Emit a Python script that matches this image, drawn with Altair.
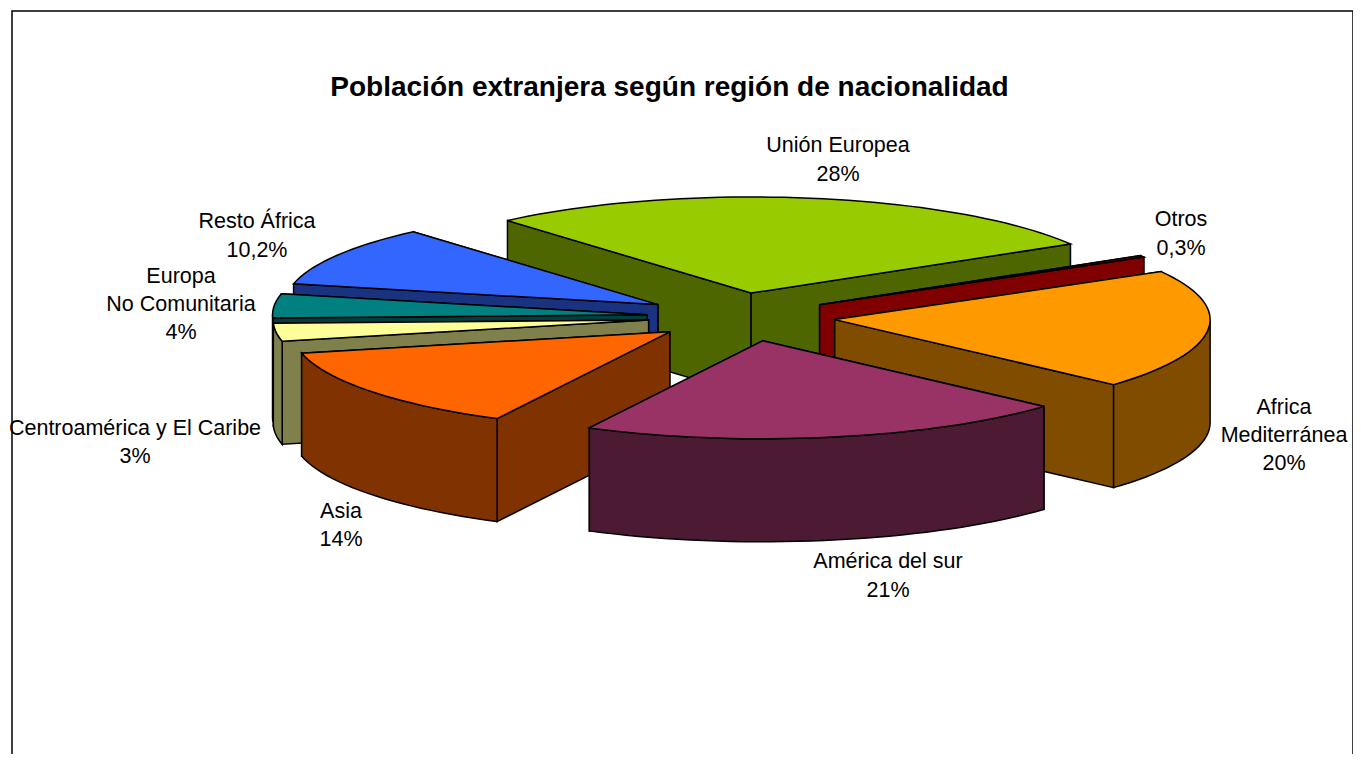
import math
import altair as alt
import pandas as pd

names = ["Unión Europea", "Otros", "Africa Mediterránea", "América del sur", "Asia",
         "Centroamérica y El Caribe", "Europa No Comunitaria", "Resto África"]
values = [28, 0.3, 20, 21, 14, 3, 4, 10.2]
top_colors = ["#99CC00", "#800000", "#FF9900", "#993366", "#FF6600", "#FFFF99", "#008080", "#3366FF"]
wall_colors = ["#4D6600", "#800000", "#804D00", "#4D1A33", "#803300", "#80804D", "#004040", "#1A3380"]
paint_order = [0, 1, 2, 7, 6, 5, 4, 3]

label_lines = ["Unión Europea", "28%", "Otros", "0,3%", "Africa", "Mediterránea", "20%",
               "América del sur", "21%", "Asia", "14%", "Centroamérica y El Caribe", "3%",
               "Europa", "No Comunitaria", "4%", "Resto África", "10,2%"]
label_x = [837, 837, 1180, 1180, 1283, 1283, 1283, 887, 887, 340, 340, 134, 134, 180, 180, 180, 256, 256]
label_y = [145, 174, 219, 248, 407, 435, 463, 561, 590, 511, 539, 428, 456, 276, 304, 332, 221, 250]
title_text = "Población extranjera según región de nacionalidad"

W, H = 1345, 746
OX, OY = 11, 10
CX, CY, RX, RY, DEPTH, EXPLODE = 745, 316, 375, 97, 103, 0.25
START = -41
SHEAR, SHEAR_Y, PERSPECTIVE = 0.2, 341, 0.0004

total = sum(values)
polys = []
ang = START
spans = []
for v in values:
    spans.append((ang, ang + v / total * 360))
    ang += v / total * 360

for i in paint_order:
    a0, a1 = spans[i]
    mid = math.radians((a0 + a1) / 2)
    ax = CX + EXPLODE * RX * math.sin(mid)
    ay = CY - EXPLODE * RY * math.cos(mid)
    ax += SHEAR * (ay - SHEAR_Y)
    sc = 1 + PERSPECTIVE * (ay - CY)

    def pt(deg):
        r = math.radians(deg)
        return (ax + sc * RX * math.sin(r), ay - sc * RY * math.cos(r))

    n = max(2, int((a1 - a0) / 2) + 1)
    angs = [a0 + (a1 - a0) * k / (n - 1) for k in range(n)]
    arc = [pt(d) for d in angs]
    faces = []
    walls = []
    m = pt((a0 + a1) / 2)
    for e in (arc[0], arc[-1]):
        dx, dy = e[0] - ax, e[1] - ay
        cross = dx * (m[1] - ay) - dy * (m[0] - ax)
        facing = (cross < 0) == (dx > 0)
        walls.append((facing, [(ax, ay), e, (e[0], e[1] + DEPTH), (ax, ay + DEPTH)]))
    walls.sort(key=lambda t: t[0])
    faces += [(w[1], wall_colors[i]) for w in walls]
    lo, hi = max(a0, 90), min(a1, 270)
    if hi > lo:
        k = max(2, int((hi - lo) / 2) + 1)
        fa = [lo + (hi - lo) * j / (k - 1) for j in range(k)]
        rim = [pt(d) for d in fa]
        faces.append((rim + [(p[0], p[1] + DEPTH) for p in reversed(rim)], wall_colors[i]))
    faces.append(([(ax, ay)] + arc, top_colors[i]))
    polys.extend(faces)

xs = alt.Scale(domain=[0, W], range=[0, W])
ys = alt.Scale(domain=[0, H], range=[0, H])
X = lambda f: alt.X(f, scale=xs, axis=None)
Y = lambda f: alt.Y(f, scale=ys, axis=None)

layers = []
for points, color in polys:
    df = pd.DataFrame({"px": [p[0] - OX for p in points], "py": [p[1] - OY for p in points],
                       "k": list(range(len(points)))})
    layers.append(alt.Chart(df).mark_line(fill=color, stroke="#000000", strokeWidth=1.5,
                                          interpolate="linear-closed", strokeJoin="miter", fillOpacity=1)
                  .encode(x=X("px:Q"), y=Y("py:Q"), order="k:Q"))

frame = pd.DataFrame({"px": [0, 0, 1341, 1341], "py": [H, 0, 0, H], "k": [0, 1, 2, 3]})
layers.append(alt.Chart(frame).mark_line(color="#000000", strokeWidth=1.5)
              .encode(x=X("px:Q"), y=Y("py:Q"), order="k:Q"))

lab = pd.DataFrame({"t": label_lines, "px": [v - OX for v in label_x], "py": [v - OY for v in label_y]})
layers.append(alt.Chart(lab).mark_text(font="Liberation Sans", fontSize=21.5, color="#000000", align="center", baseline="middle")
              .encode(x=X("px:Q"), y=Y("py:Q"), text="t:N"))
tt = pd.DataFrame({"t": [title_text], "px": [668.5 - OX], "py": [87 - OY]})
layers.append(alt.Chart(tt).mark_text(font="Liberation Sans", fontSize=28, fontWeight="bold", color="#000000", align="center", baseline="middle")
              .encode(x=X("px:Q"), y=Y("py:Q"), text="t:N"))

chart = alt.layer(*layers).properties(width=W, height=H, padding={"left": 0, "top": 0, "right": 0, "bottom": 0},
                                      background="#FFFFFF",
                                      autosize=alt.AutoSizeParams(type="fit", contains="padding")).configure_view(stroke=None)
chart.save("out.html", embed_options={"renderer": "svg", "actions": False})
